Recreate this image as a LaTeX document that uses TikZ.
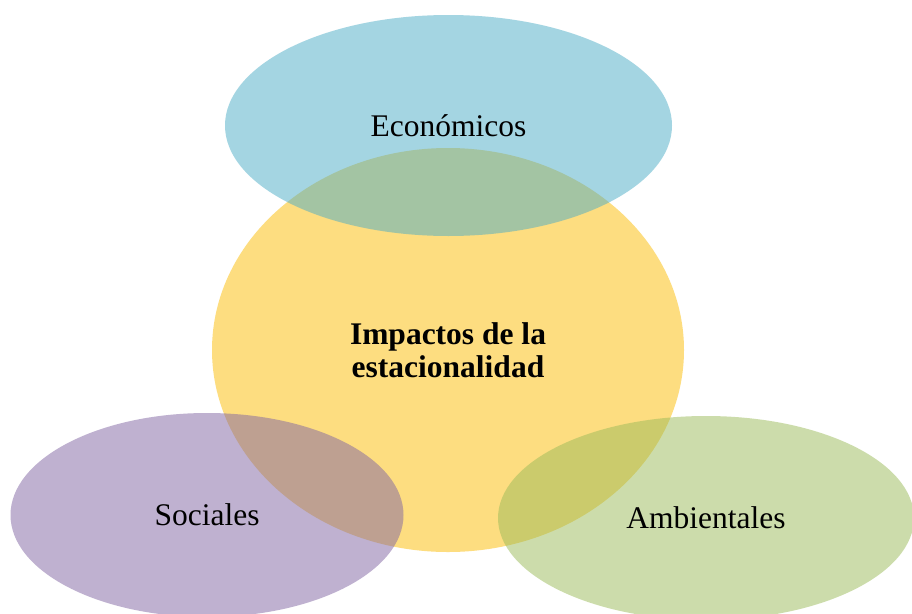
\documentclass[tikz,border=0pt]{standalone}
\usepackage{fontspec}
\setmainfont{Liberation Serif}
\usetikzlibrary{shapes.geometric}
\definecolor{yellowc}{RGB}{253,221,128}
\definecolor{bluec}{HTML}{4BACC6}
\definecolor{purplec}{HTML}{8064A2}
\definecolor{greenc}{HTML}{9BBB59}
\tikzset{
  blob/.style={ellipse, draw=none, inner sep=0pt, text=black, text opacity=1,
    font=\fontsize{31.5}{33}\selectfont},
  sat/.style={blob, fill opacity=0.5}
}
\begin{document}
\begin{tikzpicture}[x=1pt,y=-1pt]
\useasboundingbox (0,0) rectangle (912,613);
\fill[white] (0,0) rectangle (912,613);
\node[blob, fill=yellowc, minimum width=472pt, minimum height=404pt, align=center,
  font=\fontsize{31.5}{33}\selectfont\bfseries] (center) at (448,350) {Impactos de la\\estacionalidad};
\node[sat, fill=bluec, minimum width=447pt, minimum height=221pt] (eco) at (448.5,125.5) {Económicos};
\node[sat, fill=purplec, minimum width=393pt, minimum height=204pt] (soc) at (207,515) {Sociales};
\node[sat, fill=greenc, minimum width=416pt, minimum height=204pt] (amb) at (706,518) {Ambientales};
\end{tikzpicture}
\end{document}
